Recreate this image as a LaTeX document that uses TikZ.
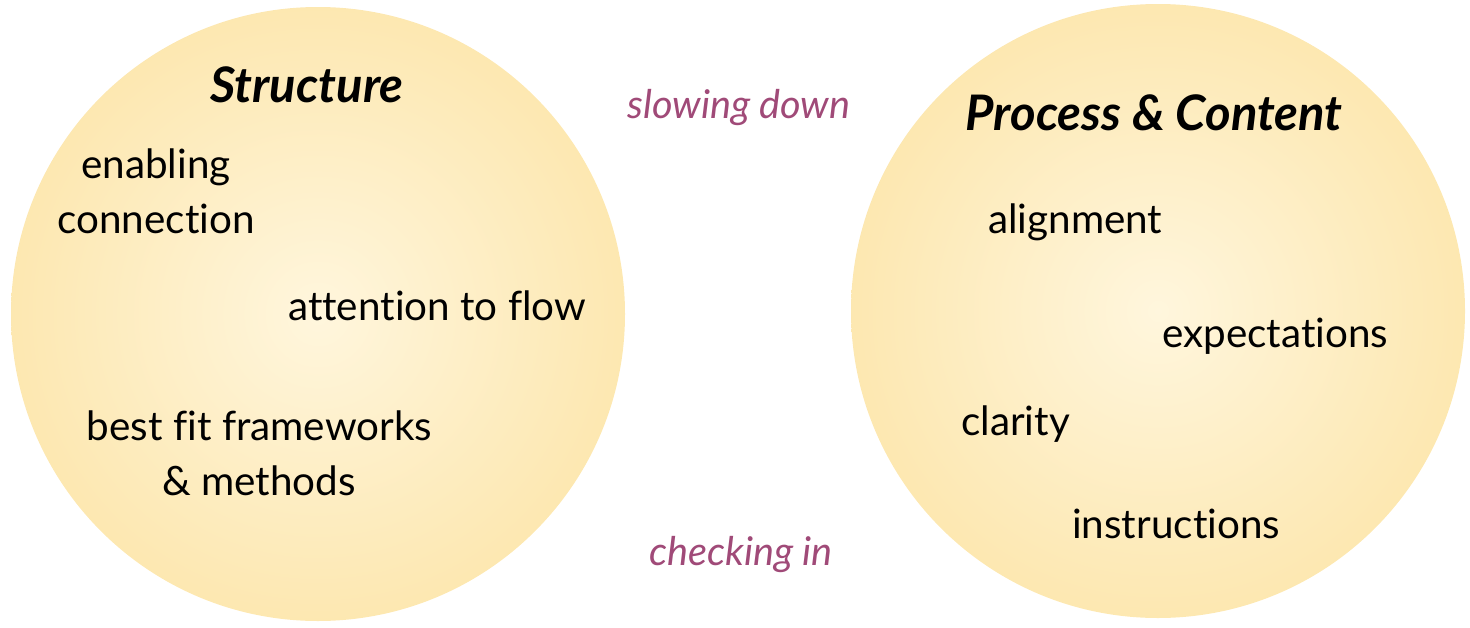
\documentclass[tikz,border=0pt]{standalone}
\usepackage{fontspec}
\setmainfont{Lato}[Ligatures=NoCommon]
\definecolor{cream}{HTML}{FFF6DD}
\definecolor{gold}{HTML}{FAD985}
\definecolor{plum}{HTML}{A04A78}
\pgfdeclareradialshading{glow}{\pgfpoint{0bp}{0bp}}{%
  color(0bp)=(cream); color(50bp)=(gold); color(100bp)=(gold)}
\tikzset{
  ball/.style={shading=glow},
  body/.style={inner sep=0pt, font=\fontsize{40.4}{55}\selectfont, text=black},
  heading/.style={inner sep=0pt, font=\fontsize{49}{55}\selectfont\bfseries\itshape, text=black},
  note/.style={inner sep=0pt, font=\fontsize{39.6}{44}\selectfont\itshape, text=plum},
}
\begin{document}
\begin{tikzpicture}[x=1pt,y=-1pt]
\useasboundingbox (0,0) rectangle (1470,627);
% the two circles
\coordinate (lc) at (318,314);
\coordinate (rc) at (1158,311);
\shade[ball] (lc) circle (307);
\shade[ball] (rc) circle (307);
% left circle
\node[heading, anchor=base] (structure) at (307,102) {Structure};
\node[body, anchor=base] (enabling) at (156,178) {enabling};
\node[body, anchor=base] (connection) at (156,233) {connection};
\node[body, anchor=base west] (flow) at (288,320) {attention to flow};
\node[body, anchor=base] (best) at (259.5,440) {best fit frameworks};
\node[body, anchor=base] (methods) at (259,495) {\& methods};
% right circle
\node[heading, anchor=base] (process) at (1154,130) {Process \& Content};
\node[body, anchor=base west] (alignment) at (988,233) {alignment};
\node[body, anchor=base west] (expect) at (1162,347) {expectations};
\node[body, anchor=base west] (clarity) at (961,435) {clarity};
\node[body, anchor=base west] (instr) at (1072,538) {instructions};
% between the circles
\node[note, anchor=base] (slow) at (739,118) {slowing down};
\node[note, anchor=base] (check) at (741,565) {checking in};
\end{tikzpicture}
\end{document}
